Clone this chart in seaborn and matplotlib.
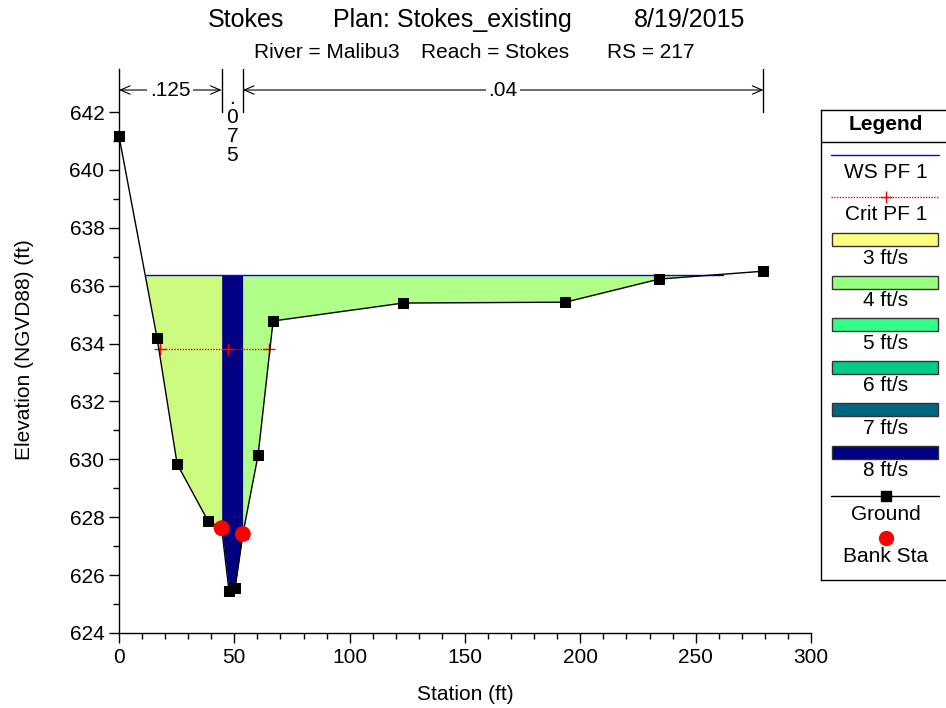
import numpy as np
import pandas as pd
import matplotlib
matplotlib.use('Agg')
import matplotlib.pyplot as plt
from matplotlib.patches import Rectangle
import seaborn as sns

# cross section data
station = [0, 16.5, 25.2, 38.6, 44.5, 47.7, 50.3, 53.7, 60.3, 66.8, 123.2, 193.5, 234.3, 279.4]
elev = [641.17, 634.19, 629.84, 627.87, 627.62, 625.45, 625.55, 627.42, 630.15, 634.78,
        635.40, 635.43, 636.23, 636.50]
bank_sta = [44.5, 53.7]
bank_elev = [627.62, 627.42]
ws_elev = 636.38
ws_sta = [11.7, 262.0]
crit_elev = 633.8
crit_sta = [17.8, 47.3, 65.1]
n_values = ['.125', '.075', '.04']
n_breaks = [0, 44.5, 53.7, 279.4]

sub_colors = ['#cdfb80', '#000080', '#b0ff88']
vel_labels = ['3 ft/s', '4 ft/s', '5 ft/s', '6 ft/s', '7 ft/s', '8 ft/s']
vel_colors = ['#ffff80', '#99ff80', '#33ff88', '#00cc88', '#006680', '#000080']

sns.set_style('ticks')
plt.rcParams['font.family'] = ['Liberation Sans', 'DejaVu Sans']
plt.rcParams['text.color'] = 'black'
plt.rcParams['xtick.color'] = 'black'
plt.rcParams['ytick.color'] = 'black'
plt.rcParams['axes.labelcolor'] = 'black'

ground = pd.DataFrame({'Station': station, 'Elevation': elev})
banks = pd.DataFrame({'Station': bank_sta, 'Elevation': bank_elev})

fig = plt.figure(figsize=(9.46, 7.08), dpi=100)
ax = fig.add_axes([119/946, 75/708, 692/946, 564.4/708])

# water fill by subsection
st = np.array(station)
el = np.array(elev)
edges = [st[0], bank_sta[0], bank_sta[1], st[-1]]
for i in range(3):
    m = (st >= edges[i]) & (st <= edges[i+1])
    ax.fill_between(st[m], el[m], ws_elev, where=el[m] <= ws_elev, interpolate=True,
                    color=sub_colors[i], lw=0, zorder=1)

ax.plot(ws_sta, [ws_elev, ws_elev], color='blue', lw=1, zorder=3)
ax.plot([crit_sta[0], crit_sta[-1]], [crit_elev, crit_elev], color='red', lw=1,
        ls=(0, (1, 1)), zorder=3)
ax.plot(crit_sta, [crit_elev]*3, ls='none', marker='+', color='red', ms=8, mew=1, zorder=3)

sns.lineplot(data=ground, x='Station', y='Elevation', ax=ax, color='black', lw=1,
             marker='s', markersize=6.5, markeredgecolor='black', sort=False, zorder=4,
             clip_on=False)
sns.scatterplot(data=banks, x='Station', y='Elevation', ax=ax, color='red', s=130,
                edgecolor='none', zorder=5)

ax.set_xlim(0, 300)
ax.set_ylim(624, 643.5)
ax.set_xticks(range(0, 301, 50))
ax.set_xticks(range(0, 301, 10), minor=True)
ax.set_yticks(range(624, 643, 2))
ax.set_yticks(range(624, 643, 1), minor=True)
ax.tick_params(which='major', length=7, width=1, labelsize=15, color='black', labelcolor='black')
ax.tick_params(which='minor', length=4, width=1, color='black')
ax.set_xlabel('')
ax.set_ylabel('')
sns.despine(ax=ax)
for s in ['left', 'bottom']:
    ax.spines[s].set_color('black')
    ax.spines[s].set_linewidth(1)

# manning's n labels
y_arr = 642.76
for b in n_breaks[1:]:
    ax.plot([b, b], [642.0, 643.5], color='black', lw=1, clip_on=False)
for (a, b), lab in [((n_breaks[0], n_breaks[1]), n_values[0]), ((n_breaks[2], n_breaks[3]), n_values[2])]:
    ax.annotate('', xy=(a, y_arr), xytext=(b, y_arr),
                arrowprops=dict(arrowstyle='<->,head_length=0.7,head_width=0.3', lw=0.8,
                                color='black', shrinkA=0, shrinkB=0))
    ax.text((a + b) / 2, y_arr, lab, fontsize=15, ha='center', va='center',
            bbox=dict(facecolor='white', edgecolor='none', pad=2))
ax.text((n_breaks[1] + n_breaks[2]) / 2, 642.8, '\n'.join(n_values[1]), fontsize=15,
        ha='center', va='top', linespacing=1.0)

# titles
fig.text(208/946, 1 - 20/708, 'Stokes', fontsize=18, va='center')
fig.text(333/946, 1 - 20/708, 'Plan: Stokes_existing', fontsize=18, va='center')
fig.text(745/946, 1 - 20/708, '8/19/2015', fontsize=18, va='center', ha='right')
fig.text(254/946, 1 - 52/708, 'River = Malibu3', fontsize=15, va='center')
fig.text(421/946, 1 - 52/708, 'Reach = Stokes', fontsize=15, va='center')
fig.text(607/946, 1 - 52/708, 'RS = 217', fontsize=15, va='center')
fig.text(465/946, 1 - 695/708, 'Station (ft)', fontsize=15, ha='center', va='center')
fig.text(25/946, 1 - 350/708, 'Elevation (NGVD88) (ft)', fontsize=15, ha='center',
         va='center', rotation=90)

# legend box
lax = fig.add_axes([821/946, 128/708, 140/946, 470/708])
lax.set_xlim(0, 140)
lax.set_ylim(470, 0)
lax.set_xticks([])
lax.set_yticks([])
for s in lax.spines.values():
    s.set_color('black')
    s.set_linewidth(1)
lax.set_facecolor('white')
lax.text(65, 15, 'Legend', fontsize=15, fontweight='bold', ha='center', va='center')
lax.axhline(32, color='black', lw=1)
lax.plot([10, 118], [45, 45], color='blue', lw=1)
lax.text(65, 62, 'WS PF 1', fontsize=15, ha='center', va='center')
lax.plot([10, 118], [87, 87], color='red', lw=1, ls=(0, (1, 1)))
lax.plot([65], [87], marker='+', color='red', ms=8)
lax.text(65, 104, 'Crit PF 1', fontsize=15, ha='center', va='center')
for i, (lab, c) in enumerate(zip(vel_labels, vel_colors)):
    y0 = 123 + i * 42.6
    lax.add_patch(Rectangle((11, y0), 106, 13, facecolor=c, edgecolor='#333333', lw=1))
    lax.text(65, y0 + 25, lab, fontsize=15, ha='center', va='center')
lax.plot([10, 118], [386, 386], color='black', lw=1)
lax.plot([65], [386], marker='s', color='black', ms=6.5)
lax.text(65, 404, 'Ground', fontsize=15, ha='center', va='center')
lax.plot([65], [428], marker='o', color='red', ms=11, mec='none')
lax.text(65, 447, 'Bank Sta', fontsize=15, ha='center', va='center')

fig.savefig('out.png', dpi=100, facecolor='white')
